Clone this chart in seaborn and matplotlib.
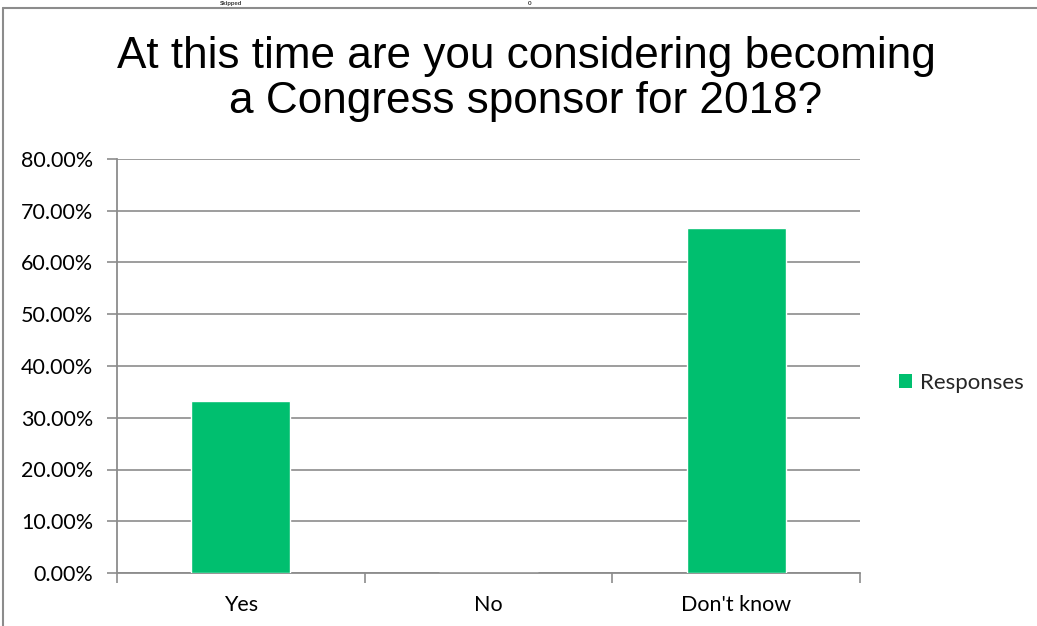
import matplotlib
matplotlib.use("Agg")
import matplotlib.pyplot as plt
import seaborn as sns
import pandas as pd
from matplotlib.ticker import FuncFormatter, MultipleLocator
from matplotlib.patches import Patch
from matplotlib.lines import Line2D

categories = ["Yes", "No", "Don't know"]
responses = [33.33, 0.0, 66.67]
series_name = "Responses"
title = "At this time are you considering becoming\na Congress sponsor for 2018?"

df = pd.DataFrame({"Answer": categories, "Value": responses})

sns.set_theme(style="white")
plt.rcParams["font.family"] = ["Lato", "DejaVu Sans"]

green = "#00BF6F"
gray = "#8C8C8C"

fig = plt.figure(figsize=(10.37, 6.26), dpi=100)
ax = fig.add_axes([117/1037, 1-573/626, (860-117)/1037, (573-159)/626])

sns.barplot(data=df, x="Answer", y="Value", color=green, width=0.4,
            saturation=1, ax=ax, zorder=3)

ax.set_ylim(0, 80)
ax.set_xlim(-0.5, 2.5)
ax.yaxis.set_major_locator(MultipleLocator(10))
ax.yaxis.set_major_formatter(FuncFormatter(lambda v, p: f"{v:.2f}%"))
ax.grid(axis="y", color=gray, linewidth=1.2, zorder=0)
ax.set_axisbelow(True)
for s in ["top", "right"]:
    ax.spines[s].set_visible(False)
for s in ["left", "bottom"]:
    ax.spines[s].set_color(gray)
    ax.spines[s].set_linewidth(1.3)
ax.set_xlabel("")
ax.set_ylabel("")

ax.tick_params(axis="y", which="major", direction="out", length=7, width=1.2,
               color=gray, left=True, labelsize=15.5, labelcolor="black", pad=10)
ax.set_xticks([0, 1, 2])
ax.set_xticklabels(categories)
ax.tick_params(axis="x", which="major", length=0, labelsize=15.5,
               labelcolor="black", pad=16)
ax.set_xticks([-0.5, 0.5, 1.5, 2.5], minor=True)
ax.tick_params(axis="x", which="minor", direction="out", length=7, width=1.2,
               color=gray, bottom=True)

fig.text(526/1037, 1-79/626, title, ha="center", va="center", fontsize=31.8,
         family=["Liberation Sans", "DejaVu Sans"], color="black", linespacing=1.1)

handles = [Patch(facecolor=green, edgecolor="none", label=series_name)]
fig.legend(handles=handles, loc="center left", bbox_to_anchor=(899/1037, 1-383/626),
           frameon=False, fontsize=16, handlelength=0.6, handleheight=0.6,
           handletextpad=0.35, borderpad=0, borderaxespad=0)

# screenshot frame
fig.add_artist(Line2D([3/1037, 1], [1-8/626, 1-8/626], transform=fig.transFigure,
                      color=gray, linewidth=1.5))
fig.add_artist(Line2D([3/1037, 3/1037], [0, 1-8/626], transform=fig.transFigure,
                      color=gray, linewidth=1.5))
fig.text(220/1037, 1-1/626, "Skipped", ha="left", va="top", fontsize=4.5,
         fontweight="bold", color="#333333")
fig.text(528/1037, 1-1/626, "0", ha="left", va="top", fontsize=4.5,
         fontweight="bold", color="#333333")

fig.savefig("out.png", dpi=100)
